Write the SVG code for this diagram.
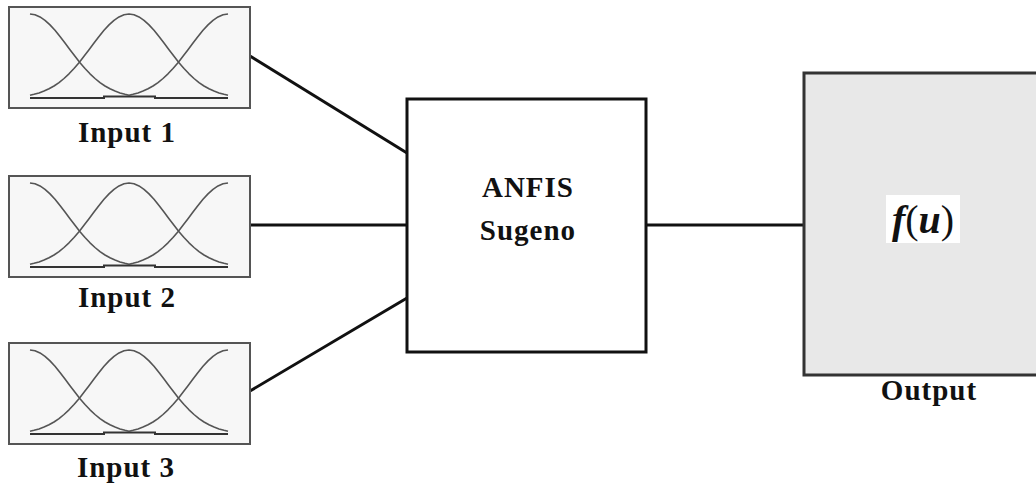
<svg xmlns="http://www.w3.org/2000/svg" width="1036" height="487" viewBox="0 0 1036 487">
<style>
.lbl{font-family:"Liberation Serif","Times New Roman",serif;font-weight:bold;font-size:29px;letter-spacing:1px;fill:#111;text-anchor:middle}
.inbox{fill:#f7f7f7;stroke:#555;stroke-width:2}
.mf{fill:none;stroke:#555;stroke-width:1.6;stroke-linejoin:round}
.base{fill:none;stroke:#333;stroke-width:2}
.conn{stroke:#111;stroke-width:3;fill:none}
</style>
<defs>
<g id="mfset">
<rect class="inbox" x="0" y="0" width="241" height="101"/>
<polyline class="mf" points="21,7 26,7.7 31,9.9 36,13.3 41,17.9 46,23.3 51,29.5 56,36 61,42.7 66,49.3 71,55.7 76,61.5 81,66.8 86,71.5 91,75.6 96,79 101,81.8 106,84.1 111,85.9 116,87.3 120,88.2"/>
<polyline class="mf" points="21,88.2 25,87.3 30,85.9 35,84.1 40,81.8 45,79 50,75.6 55,71.5 60,66.8 65,61.5 70,55.7 75,49.3 80,42.7 85,36 90,29.5 95,23.3 100,17.9 105,13.3 110,9.9 115,7.7 120,7 125,7.7 130,9.9 135,13.3 140,17.9 145,23.3 150,29.5 155,36 160,42.7 165,49.3 170,55.7 175,61.5 180,66.8 185,71.5 190,75.6 195,79 200,81.8 205,84.1 210,85.9 215,87.3 219,88.2"/>
<polyline class="mf" points="120,88.2 124,87.3 129,85.9 134,84.1 139,81.8 144,79 149,75.6 154,71.5 159,66.8 164,61.5 169,55.7 174,49.3 179,42.7 184,36 189,29.5 194,23.3 199,17.9 204,13.3 209,9.9 214,7.7 219,7"/>
<path class="base" d="M21,91 H95 V89.5 H146 V91 H219"/>
</g>
</defs>
<rect width="1036" height="487" fill="#fff"/>
<g id="connectors">
<line class="conn" x1="250" y1="56" x2="407" y2="153"/>
<line class="conn" x1="250" y1="225" x2="407" y2="225"/>
<line class="conn" x1="250" y1="391" x2="407" y2="298"/>
<line class="conn" x1="646" y1="225" x2="805" y2="225"/>
</g>
<g id="input1">
<use href="#mfset" transform="translate(9,7)"/>
<text class="lbl" x="127" y="142">Input 1</text>
</g>
<g id="input2">
<use href="#mfset" transform="translate(9,176)"/>
<text class="lbl" x="127" y="307">Input 2</text>
</g>
<g id="input3">
<use href="#mfset" transform="translate(9,343)"/>
<text class="lbl" x="126" y="477">Input 3</text>
</g>
<g id="anfis">
<rect x="407" y="99" width="239" height="253" fill="#fff" stroke="#111" stroke-width="3"/>
<text class="lbl" x="528" y="197">ANFIS</text>
<text class="lbl" x="528" y="240">Sugeno</text>
</g>
<g id="output">
<rect x="804" y="73" width="240" height="302" fill="#e8e8e8" stroke="#333" stroke-width="3"/>
<rect x="886" y="195" width="74" height="48" fill="#fff"/>
<text x="923" y="233" style="font-family:'Liberation Serif','Times New Roman',serif;font-size:40px;fill:#111;text-anchor:middle"><tspan font-weight="bold" font-style="italic">f</tspan><tspan>(</tspan><tspan font-weight="bold" font-style="italic">u</tspan><tspan>)</tspan></text>
<text class="lbl" x="929" y="400">Output</text>
</g>
</svg>
